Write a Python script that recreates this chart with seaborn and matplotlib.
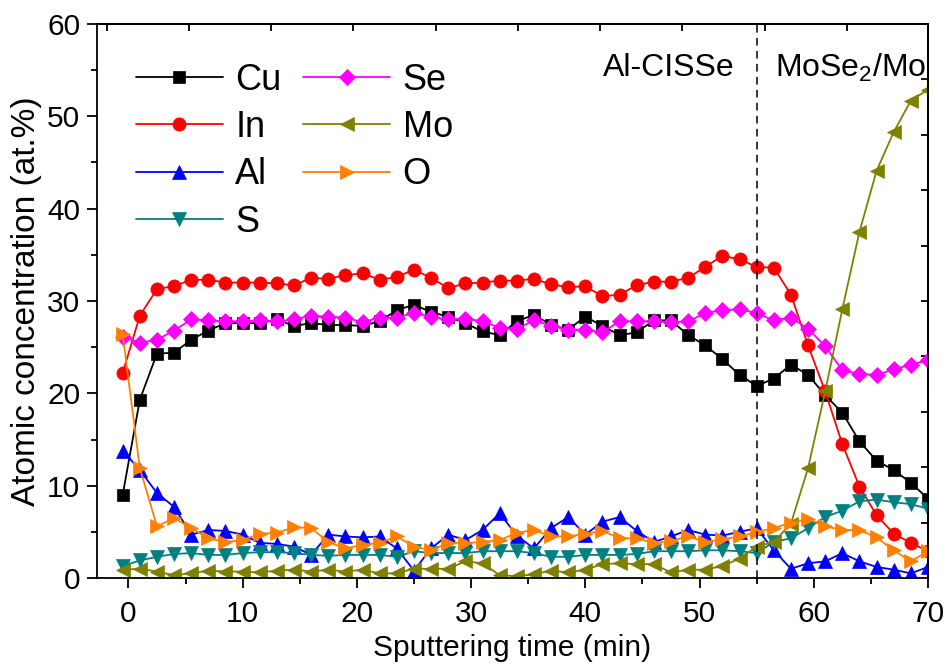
import pandas as pd
import seaborn as sns
import matplotlib.pyplot as plt
from matplotlib.ticker import MultipleLocator, FixedLocator

# sputtering time (min) of each depth-profile point
time = [-0.5, 1.0, 2.5, 4.0, 5.5, 7.0, 8.5, 10.0, 11.5, 13.0, 14.5, 16.0,
        17.5, 19.0, 20.5, 22.0, 23.5, 25.0, 26.5, 28.0, 29.5, 31.0, 32.5, 34.0,
        35.5, 37.0, 38.5, 40.0, 41.5, 43.0, 44.5, 46.0, 47.5, 49.0, 50.5, 52.0,
        53.5, 55.0, 56.5, 58.0, 59.5, 61.0, 62.5, 64.0, 65.5, 67.0, 68.5, 70.0]

cu = [9.0, 19.3, 24.3, 24.4, 25.8, 26.8, 27.6, 27.6, 27.6, 28.0, 27.3, 27.6,
      27.4, 27.4, 27.3, 27.8, 29.0, 29.6, 28.8, 28.3, 27.6, 26.7, 26.3, 27.8,
      28.5, 27.4, 26.9, 28.3, 27.3, 26.3, 26.6, 27.9, 27.9, 26.3, 25.2, 23.7,
      22.0, 20.8, 21.6, 23.1, 22.0, 19.8, 17.9, 14.8, 12.7, 11.7, 10.3, 8.6]
in_ = [22.2, 28.4, 31.3, 31.6, 32.3, 32.3, 32.0, 32.0, 32.0, 31.9, 31.7, 32.5,
       32.4, 32.8, 33.0, 32.3, 32.6, 33.4, 32.5, 31.4, 31.9, 32.0, 32.2, 32.2,
       32.4, 31.8, 31.5, 31.6, 30.5, 30.7, 31.7, 32.1, 32.1, 32.5, 33.7, 34.9,
       34.5, 33.7, 33.6, 30.7, 25.2, 20.2, 14.5, 9.9, 6.8, 4.8, 3.8, 2.9]
al = [13.8, 11.7, 9.2, 7.7, 4.7, 5.2, 5.1, 4.7, 3.8, 3.7, 3.4, 2.5,
      4.7, 4.5, 4.4, 4.5, 3.2, 0.8, 3.2, 4.7, 4.1, 5.2, 7.0, 4.6,
      3.2, 5.4, 6.6, 4.7, 6.1, 6.6, 5.1, 3.9, 4.5, 5.2, 4.7, 4.6,
      5.0, 5.4, 3.0, 1.0, 1.6, 1.8, 2.7, 1.8, 1.2, 0.9, 0.5, 1.2]
s = [1.3, 1.9, 2.3, 2.6, 2.7, 2.5, 2.5, 2.7, 2.8, 2.8, 2.7, 2.5,
     2.4, 2.5, 2.5, 2.5, 2.3, 2.9, 2.7, 2.7, 2.7, 2.9, 2.9, 2.9,
     2.7, 2.3, 2.3, 2.5, 2.5, 2.5, 2.6, 2.9, 2.9, 2.9, 3.0, 3.0,
     2.9, 2.7, 3.9, 4.3, 5.4, 6.6, 7.3, 8.3, 8.5, 8.2, 8.0, 7.5]
se = [26.1, 25.5, 25.8, 26.8, 28.0, 27.9, 27.8, 27.8, 27.9, 27.8, 28.0, 28.4,
      28.3, 28.2, 27.7, 28.2, 28.2, 28.7, 28.3, 28.0, 28.1, 27.8, 27.1, 27.0,
      27.9, 27.3, 26.9, 26.9, 26.6, 27.8, 27.8, 27.8, 27.7, 27.8, 28.7, 29.0,
      29.1, 28.7, 27.9, 28.2, 27.0, 25.1, 22.5, 22.1, 22.0, 22.6, 23.1, 23.6]
mo = [0.9, 1.0, 0.7, 0.3, 0.5, 0.8, 0.7, 0.7, 0.6, 0.8, 0.9, 0.7,
      0.9, 0.7, 0.9, 0.5, 0.5, 1.0, 1.0, 1.0, 1.8, 1.6, 0.3, 0.2,
      0.4, 0.8, 0.6, 0.9, 1.5, 1.6, 1.5, 1.5, 0.6, 0.9, 0.9, 1.3,
      2.1, 3.4, 3.9, 5.9, 11.9, 20.2, 29.1, 37.5, 44.1, 48.3, 51.7, 52.9]
o = [26.4, 11.9, 5.6, 6.5, 5.4, 4.3, 3.9, 4.1, 4.8, 4.9, 5.5, 5.4,
     3.9, 3.2, 3.6, 3.8, 4.5, 3.4, 3.0, 3.8, 3.8, 3.9, 4.1, 4.9,
     5.2, 4.5, 4.5, 4.8, 5.1, 4.3, 4.3, 3.8, 4.0, 4.5, 3.9, 4.2,
     4.5, 5.0, 5.4, 6.0, 6.4, 5.6, 5.2, 5.2, 4.4, 3.0, 1.8, 2.9]

elements = ["Cu", "In", "Al", "S", "Se", "Mo", "O"]
series = [cu, in_, al, s, se, mo, o]
colors = ["#000000", "#ff0000", "#0000ff", "#008080", "#ff00ff", "#808000", "#ff8000"]
markers = ["s", "o", "^", "v", "D", "<", ">"]
msizes = [8, 9.5, 9.5, 9.5, 8.5, 9.5, 9.5]

df = pd.concat([pd.DataFrame({"time": time, "conc": v, "element": el})
                for el, v in zip(elements, series)], ignore_index=True)

sns.set_style("ticks", rc={"text.color": "black", "axes.labelcolor": "black",
                           "axes.edgecolor": "black", "xtick.color": "black",
                           "ytick.color": "black"})
plt.rcParams["font.family"] = ["Liberation Sans", "DejaVu Sans"]
plt.rcParams["mathtext.default"] = "regular"

fig = plt.figure(figsize=(9.48, 6.64), dpi=100)
ax = fig.add_axes([0.1023, 0.1295, 0.8766, 0.8344])

for el, c, m, ms in zip(elements, colors, markers, msizes):
    sns.lineplot(data=df[df["element"] == el], x="time", y="conc", ax=ax,
                 color=c, marker=m, markersize=ms, markeredgecolor=c,
                 markeredgewidth=0.5, linewidth=1.3, label=el)

ax.axvline(55, color="black", linestyle=(0, (5, 3.5)), linewidth=1.1)
ax.text(47.3, 55.2, "Al-CISSe", fontsize=23, ha="center", va="center")
ax.text(63.2, 55.2, "MoSe$_2$/Mo", fontsize=23, ha="center", va="center")

ax.set_xlim(-2.75, 70)
ax.set_ylim(0, 60)
ax.xaxis.set_major_locator(MultipleLocator(10))
ax.xaxis.set_minor_locator(MultipleLocator(5))
ax.yaxis.set_major_locator(MultipleLocator(10))
ax.yaxis.set_minor_locator(MultipleLocator(5))
ax.tick_params(which="major", direction="out", length=7, width=1.3,
               labelsize=21.5)
ax.tick_params(axis="x", which="major", pad=9)
ax.tick_params(axis="y", which="major", pad=5)
ax.tick_params(which="minor", direction="out", length=4, width=1.3)

# mirrored axes on top and right carry their own inward ticks
top = ax.secondary_xaxis("top")
top.xaxis.set_major_locator(FixedLocator([-1.9, 5.3, 12.5, 19.7, 26.9, 34.1,
                                          41.3, 48.5, 55.7, 62.9]))
top.tick_params(direction="in", length=5, width=1.3, labeltop=False)
right = ax.secondary_yaxis("right")
right.yaxis.set_major_locator(FixedLocator([6, 12, 18, 24, 30, 36, 42, 48, 54]))
right.tick_params(direction="in", length=5, width=1.3, labelright=False)

for sp in list(ax.spines.values()) + [top.spines["top"], right.spines["right"]]:
    sp.set_linewidth(1.3)

ax.set_xlabel("Sputtering time (min)", fontsize=21.5, labelpad=4)
ax.set_ylabel("Atomic concentration (at.%)", fontsize=24, labelpad=4)

ax.legend(loc="upper left", bbox_to_anchor=(0.047, 0.93), ncol=2,
          frameon=False, fontsize=26, handlelength=2.4, handletextpad=0.35,
          columnspacing=0.6, labelspacing=0.34, borderaxespad=0, borderpad=0)

fig.savefig("out.png", dpi=100)
